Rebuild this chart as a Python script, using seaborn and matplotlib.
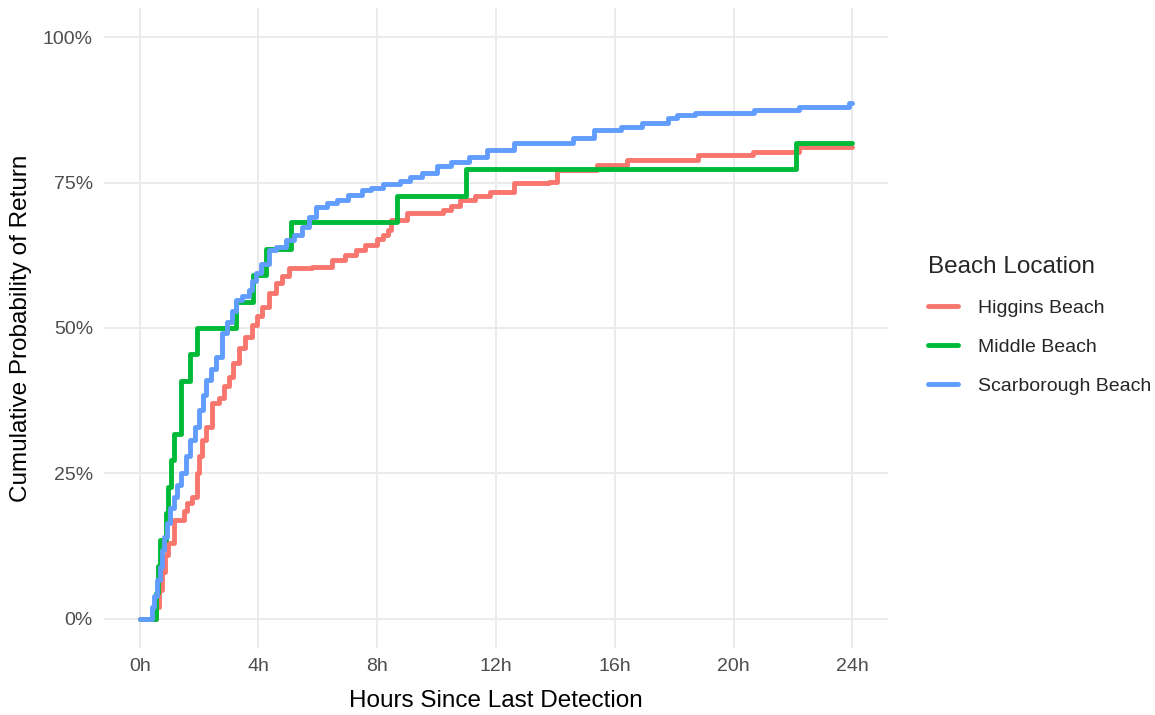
import pandas as pd
import matplotlib
matplotlib.use("Agg")
import matplotlib.pyplot as plt
import matplotlib.ticker as mticker
import seaborn as sns

# step points (hours, cumulative probability)
higgins_hours = [0, 0.55, 0.65, 0.75, 0.85, 0.95, 1.15, 1.49, 1.6, 1.75, 1.93, 2.0, 2.1,
                 2.23, 2.43, 2.67, 2.85, 3.0, 3.15, 3.35, 3.55, 3.79, 3.95, 4.12, 4.36,
                 4.6, 4.8, 5.04, 5.81, 6.49, 6.9, 7.3, 7.6, 7.98, 8.2, 8.35, 8.45, 9.0,
                 10.2, 10.5, 10.8, 11.3, 11.8, 12.6, 13.8, 14.07, 15.4, 16.4, 18.8,
                 20.65, 22.2, 24.0]
higgins_prob = [0, 0.02, 0.05, 0.08, 0.11, 0.13, 0.17, 0.185, 0.20, 0.21, 0.25, 0.28, 0.308,
                0.33, 0.371, 0.38, 0.40, 0.416, 0.44, 0.465, 0.485, 0.505, 0.52, 0.536, 0.56,
                0.577, 0.59, 0.603, 0.605, 0.617, 0.625, 0.634, 0.643, 0.653, 0.66, 0.668,
                0.686, 0.698, 0.703, 0.71, 0.72, 0.727, 0.734, 0.749, 0.751, 0.771, 0.78,
                0.789, 0.797, 0.802, 0.811, 0.811]

middle_hours = [0, 0.55, 0.62, 0.68, 0.88, 0.95, 1.05, 1.15, 1.40, 1.71, 1.92, 3.23, 3.82,
                4.26, 5.10, 8.65, 11.0, 22.1, 24.0]
middle_prob = [0, 0.045, 0.091, 0.136, 0.182, 0.227, 0.273, 0.318, 0.409, 0.455, 0.500,
               0.545, 0.591, 0.636, 0.682, 0.727, 0.773, 0.818, 0.818]

scarb_hours = [0, 0.42, 0.5, 0.59, 0.67, 0.75, 0.83, 0.92, 1.03, 1.15, 1.27, 1.38, 1.55,
               1.71, 1.85, 2.0, 2.12, 2.23, 2.4, 2.57, 2.77, 2.95, 3.1, 3.25, 3.45, 3.68,
               3.8, 3.92, 4.1, 4.36, 4.6, 4.94, 5.2, 5.48, 5.7, 5.95, 6.3, 6.63, 7.0, 7.5,
               7.8, 8.18, 8.76, 9.1, 9.5, 10.0, 10.5, 11.1, 11.7, 12.6, 14.6, 15.3, 16.2,
               16.9, 17.8, 18.1, 18.7, 20.7, 22.2, 23.9, 24.0]
scarb_prob = [0, 0.02, 0.04, 0.067, 0.09, 0.119, 0.14, 0.165, 0.19, 0.21, 0.23, 0.25, 0.28,
              0.308, 0.33, 0.359, 0.385, 0.41, 0.43, 0.45, 0.491, 0.51, 0.53, 0.548, 0.555,
              0.565, 0.58, 0.595, 0.61, 0.634, 0.64, 0.651, 0.66, 0.674, 0.69, 0.708, 0.714,
              0.72, 0.728, 0.737, 0.74, 0.747, 0.752, 0.76, 0.766, 0.778, 0.785, 0.794,
              0.806, 0.818, 0.826, 0.84, 0.845, 0.852, 0.861, 0.866, 0.869, 0.875, 0.88,
              0.886, 0.886]

beaches = ["Higgins Beach", "Middle Beach", "Scarborough Beach"]
colors = ["#F8766D", "#00BA38", "#619CFF"]

df = pd.concat([
    pd.DataFrame({"hours": higgins_hours, "prob": higgins_prob, "beach": beaches[0]}),
    pd.DataFrame({"hours": middle_hours, "prob": middle_prob, "beach": beaches[1]}),
    pd.DataFrame({"hours": scarb_hours, "prob": scarb_prob, "beach": beaches[2]}),
])

sns.set_style("white")
plt.rcParams["font.family"] = ["Liberation Sans", "DejaVu Sans"]

fig = plt.figure(figsize=(11.55, 7.15), dpi=100)
ax = fig.add_axes([104 / 1155, 67 / 715, 784 / 1155, 640 / 715])

sns.lineplot(data=df, x="hours", y="prob", hue="beach", hue_order=beaches,
             palette=colors, estimator=None, drawstyle="steps-post",
             linewidth=3.5, ax=ax)

ax.set_xlim(-1.2, 25.2)
ax.set_ylim(-0.05, 1.05)
ax.set_xticks([0, 4, 8, 12, 16, 20, 24])
ax.set_yticks([0, 0.25, 0.5, 0.75, 1.0])
ax.xaxis.set_major_formatter(mticker.FuncFormatter(lambda v, p: f"{int(v)}h"))
ax.yaxis.set_major_formatter(mticker.PercentFormatter(xmax=1, decimals=0))

ax.grid(True, color="#EBEBEB", linewidth=1.4)
ax.set_axisbelow(True)
for s in ax.spines.values():
    s.set_visible(False)
ax.tick_params(axis="both", length=0, labelsize=14, labelcolor="#4D4D4D")
ax.tick_params(axis="x", pad=7)
ax.tick_params(axis="y", pad=8)

ax.set_xlabel("Hours Since Last Detection", fontsize=17.5, color="black", labelpad=11)
ax.set_ylabel("Cumulative Probability of Return", fontsize=17.5, color="black", labelpad=8)

handles, labels = ax.get_legend_handles_labels()
leg = ax.legend(handles, labels, title="Beach Location", loc="upper left",
                bbox_to_anchor=(918 / 1155, 1 - 246 / 715), bbox_transform=fig.transFigure,
                frameon=False, fontsize=14, title_fontsize=17.5, borderpad=0,
                handlelength=1.55, handletextpad=1.05, labelspacing=1.1,
                alignment="left")
for line in leg.get_lines():
    line.set_linewidth(3.5)

fig.savefig("out.png", dpi=100)
